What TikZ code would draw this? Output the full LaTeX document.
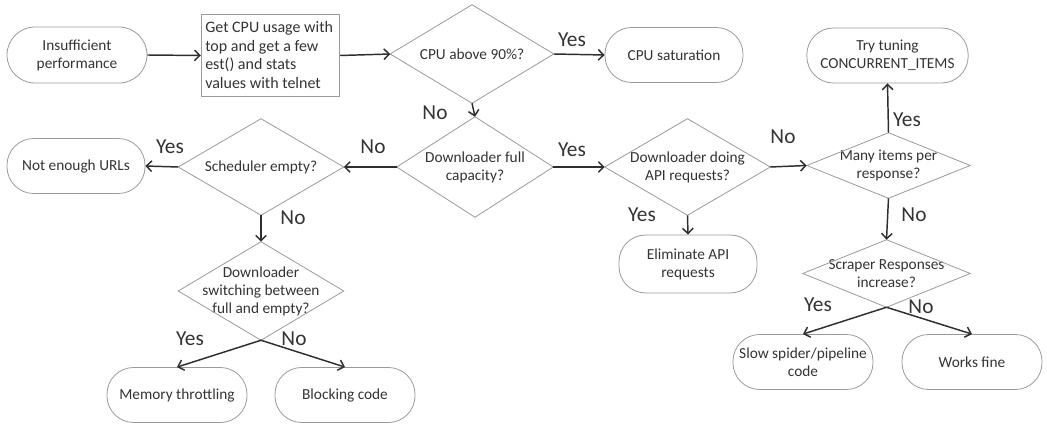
\documentclass[tikz,border=0pt]{standalone}
\usepackage{fontspec}
\setmainfont{Carlito}
\usetikzlibrary{arrows.meta}
\definecolor{bord}{HTML}{9A9A9A}
\definecolor{txt}{HTML}{333333}
\definecolor{arr}{HTML}{2E2E2E}
\begin{document}
\begin{tikzpicture}[x=0.75pt,y=-0.75pt,
  term/.style={draw=bord, line width=0.6pt, rectangle, rounded corners=20pt, minimum width=103.5pt, minimum height=41.25pt, inner sep=1pt, align=center, text=txt, font=\fontsize{11.5}{13.5}\selectfont},
  dia/.style={rectangle, inner sep=0pt, align=center, text=txt, font=\fontsize{11.5}{13.5}\selectfont},
  procbox/.style={draw=bord, line width=0.6pt, rectangle, minimum width=104pt, minimum height=62pt, inner sep=3pt, align=left, text=txt},
  conn/.style={draw=arr, line width=1.1pt, -{Straight Barb[length=4pt,width=8pt]}},
  lab/.style={text=txt, font=\fontsize{16}{18}\selectfont, inner sep=0pt}]
\useasboundingbox (0,0) rectangle (1047,427);

% terminators and box
\node[term, minimum width=105pt, minimum height=42pt, rounded corners=21pt] (ins) at (77,55) {Insufficient\\performance};
\node[procbox, minimum width=104pt, minimum height=62pt] (get) at (270.5,55.5) {};
\node[text=txt, font=\fontsize{12}{14}\selectfont, align=left, anchor=north west, inner sep=0pt] (gettxt) at (205,21) {Get CPU usage with\\top and get a few\\est() and stats\\values with telnet};
\node[term] (sat) at (674,55) {CPU saturation};
\node[term, minimum width=121pt] (tune) at (887.5,55.5) {Try tuning\\CONCURRENT\_ITEMS};
\node[term] (urls) at (76,166) {Not enough URLs};
\node[term, minimum height=43.5pt] (elim) at (688,264) {Eliminate API\\requests};
\node[term, minimum width=105pt] (mem) at (177,395) {Memory throttling};
\node[term, minimum width=105pt] (block) at (345,395) {Blocking code};
\node[term, minimum width=105pt] (slow) at (803,362) {Slow spider/pipeline\\code};
\node[term, minimum width=105pt] (fine) at (972,362) {Works fine};

% decisions (diamond outlines drawn below)
\node[dia, minimum width=122.25pt, minimum height=73.5pt] (cpu) at (472,54) {CPU above 90\%?};
\node[dia, minimum width=117pt, minimum height=75pt] (full) at (475,167) {Downloader full\\capacity?};
\node[dia, minimum width=123.75pt, minimum height=72pt] (sched) at (261,167) {Scheduler empty?};
\node[dia, minimum width=123.75pt, minimum height=73.5pt] (switch) at (261,291) {Downloader\\switching between\\full and empty?};
\node[dia, minimum width=123.75pt, minimum height=72pt] (api) at (687.5,167) {Downloader doing\\API requests?};
\node[dia, minimum width=122.25pt, minimum height=48.75pt] (many) at (888.5,165.5) {Many items per\\response?};
\node[dia, minimum width=125.25pt, minimum height=50.25pt] (scrap) at (886.5,273.5) {Scraper Responses\\increase?};

\foreach \n in {cpu,full,sched,switch,api,many,scrap}
  \draw[draw=bord, line width=0.6pt] (\n.north) -- (\n.east) -- (\n.south) -- (\n.west) -- cycle;

% connectors
\draw[conn] (ins.east) -- (get.west);
\draw[conn] (get.east) -- (cpu.west);
\draw[conn] (cpu.east) -- (sat.west);
\draw[conn] (cpu.south) -- (full.north);
\draw[conn] (full.west) -- (sched.east);
\draw[conn] (sched.west) -- (urls.east);
\draw[conn] (sched.south) -- (switch.north);
\draw[conn] (switch.south) -- (mem.north);
\draw[conn] (switch.south) -- (block.north);
\draw[conn] (full.east) -- (api.west);
\draw[conn] (api.south) -- (elim.north);
\draw[conn] (api.east) -- (many.west);
\draw[conn] (many.north) -- (tune.south);
\draw[conn] (many.south) -- (scrap.north);
\draw[conn] (scrap.south) -- (slow.north);
\draw[conn] (scrap.south) -- (fine.north);

% labels
\node[lab] (l1) at (572,40) {Yes};
\node[lab] (l2) at (435,113) {No};
\node[lab] (l3) at (373,147) {No};
\node[lab] (l4) at (170,147) {Yes};
\node[lab] (l5) at (293,218) {No};
\node[lab] (l6) at (190,339) {Yes};
\node[lab] (l7) at (294,339) {No};
\node[lab] (l8) at (572,150) {Yes};
\node[lab] (l9) at (642,215) {Yes};
\node[lab] (l10) at (783,137) {No};
\node[lab] (l11) at (907,120) {Yes};
\node[lab] (l12) at (914,215) {No};
\node[lab] (l13) at (818,305) {Yes};
\node[lab] (l14) at (921,307) {No};
\end{tikzpicture}
\end{document}
